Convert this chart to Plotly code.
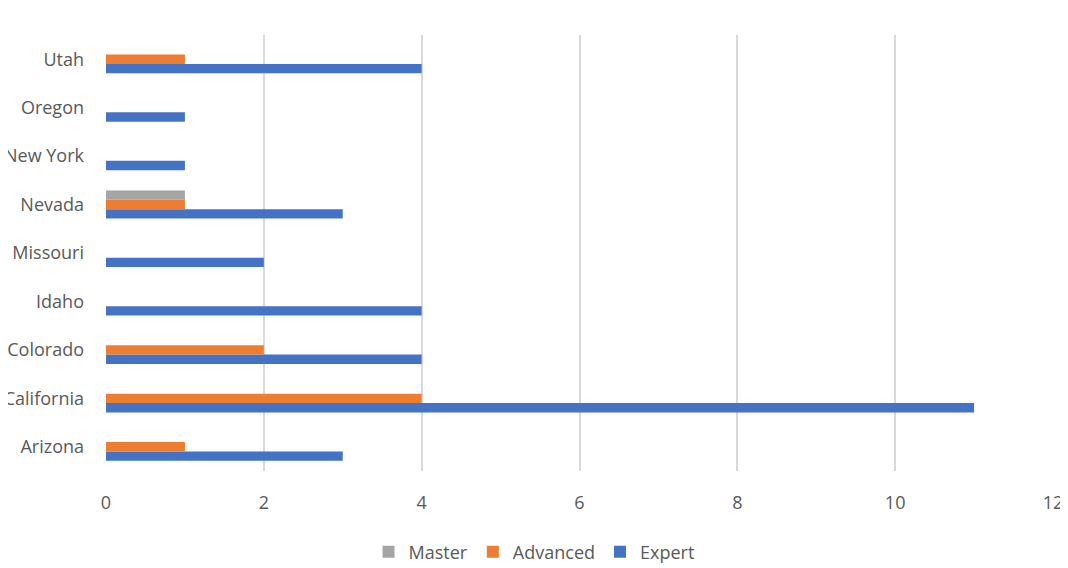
import plotly.graph_objects as go

states = ["Arizona", "California", "Colorado", "Idaho", "Missouri", "Nevada", "New York", "Oregon", "Utah"]
expert = [3, 11, 4, 4, 2, 3, 1, 1, 4]
advanced = [1, 4, 2, 0, 0, 1, 0, 0, 1]
master = [0, 0, 0, 0, 0, 1, 0, 0, 0]
x_ticks = [0, 2, 4, 6, 8, 10, 12]

font_family = "Open Sans, Lato, sans-serif"
text_color = "#595959"

fig = go.Figure()
fig.add_trace(go.Bar(y=states, x=expert, name="Expert", orientation="h",
                     marker=dict(color="#4472C4", line=dict(width=0))))
fig.add_trace(go.Bar(y=states, x=advanced, name="Advanced", orientation="h",
                     marker=dict(color="#ED7D31", line=dict(width=0))))
fig.add_trace(go.Bar(y=states, x=master, name="Master", orientation="h",
                     marker=dict(color="#A5A5A5", line=dict(width=0))))

# page body has an 8px margin, so figure is sized/offset to fit the 1068x568 window
fig.update_layout(
    width=1060, height=560,
    margin=dict(l=98, r=15, t=27, b=97, autoexpand=False),
    paper_bgcolor="white", plot_bgcolor="white",
    barmode="group", bargap=0.42, bargroupgap=0,
    font=dict(family=font_family, size=18, color=text_color),
    showlegend=True,
    legend=dict(orientation="h", x=0.452, xanchor="center", y=-0.186, yanchor="middle",
                traceorder="reversed", font=dict(size=18, color=text_color),
                itemwidth=30, bgcolor="rgba(0,0,0,0)"),
    xaxis=dict(range=[0, 12], tickvals=x_ticks, showgrid=True, gridcolor="#D9D9D9",
               gridwidth=1.5, zeroline=False, showline=False, ticks="",
               ticklabelstandoff=19, automargin=False, fixedrange=True),
    yaxis=dict(categoryorder="array", categoryarray=states, showgrid=False,
               zeroline=False, showline=False, ticks="", ticklabelstandoff=21,
               automargin=False, fixedrange=True),
)

fig.write_html("out.html")
